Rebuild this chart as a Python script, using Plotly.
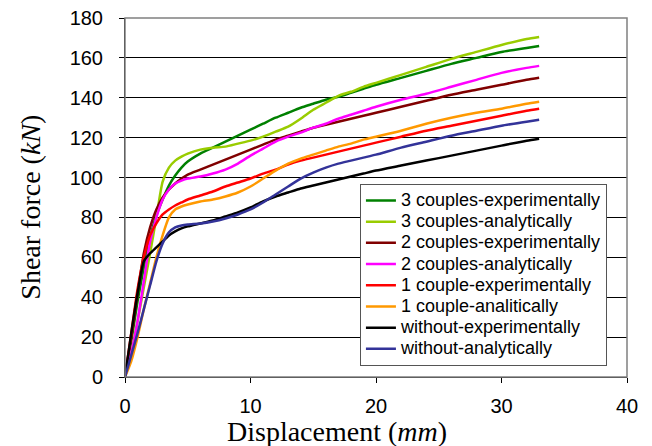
import plotly.graph_objects as go

x = [0, 0.5, 1, 1.5, 2, 2.5, 3, 3.5, 4, 4.5, 5, 6, 7, 8, 9, 10, 11, 12, 13, 14, 15,
     16, 17, 18, 19, 20, 22, 24, 26, 28, 30, 32, 33]

c3_exp = [0, 18, 38, 55, 70, 81, 89, 96, 101, 105, 108, 112, 115, 118, 121, 124, 127, 130,
          132.5, 135, 137, 139, 140.5, 142.5, 144.5, 146.5, 150, 153.5, 157, 160, 163, 165, 166]
c3_ana = [0, 12, 28, 45, 62, 80, 98, 105, 108.5, 110.5, 112, 114, 115, 115.5, 117, 118.5, 120.5,
          123, 125.5, 129.5, 134, 137.5, 141, 143, 145.5, 147.5, 151.5, 155.5, 159.5, 163, 166.5,
          169.5, 170.5]
c2_exp = [0, 20, 42, 62, 75, 84, 90, 94, 97, 99.5, 101.5, 104, 106.5, 109, 111.5, 114, 116.5,
          119, 121, 123, 125, 126.5, 128, 129.5, 131, 132.5, 135.5, 138.5, 141.5, 144, 146.5, 149, 150]
c2_ana = [0, 12, 28, 48, 68, 80, 89, 94, 97, 98.5, 99.5, 100.5, 102, 104, 107, 111, 114.5, 118,
          120.5, 122.5, 125, 127, 129.5, 131.5, 133.5, 135.5, 139, 142, 145.5, 149, 152.5, 155, 156]
c1_exp = [0, 22, 44, 60, 71, 77, 81.5, 84, 86, 87.5, 89, 91, 93, 95.5, 97.5, 99.5, 102, 104,
          106.5, 108.5, 110, 111.5, 113, 114.5, 116, 117.5, 120.5, 123.5, 126, 128.5, 131, 133.5, 134.5]
c1_ana = [0, 8, 20, 34, 47, 60, 71, 80, 84, 85.5, 86.5, 88, 89, 90.5, 92.5, 95.5, 99.5, 103.5,
          107, 109.5, 111.5, 113.5, 115.5, 117, 119, 120.5, 123.5, 127, 130, 132.5, 134.5, 137, 138]
c0_exp = [0, 22, 42, 58, 62, 65, 68, 71, 73, 74.5, 75.5, 77, 78.5, 80.5, 82.5, 85, 88, 90.5,
          92.5, 94.5, 96, 97.5, 99, 100.5, 102, 103.5, 106, 108.5, 111, 113.5, 116, 118.5, 119.5]
c0_ana = [0, 11, 22, 34, 46, 58, 67, 72.5, 75, 76, 76.5, 77, 78, 79.5, 81.5, 84, 87.5, 91.5,
          95.5, 99.5, 102.5, 105, 107, 108.5, 110, 111.5, 115, 118, 121, 123.5, 126, 128, 129]

names = ["3 couples-experimentally", "3 couples-analytically", "2 couples-experimentally",
         "2 couples-analytically", "1 couple-experimentally", "1 couple-analitically",
         "without-experimentally", "without-analytically"]
series = [c3_exp, c3_ana, c2_exp, c2_ana, c1_exp, c1_ana, c0_exp, c0_ana]
colors = ["#008000", "#99CC00", "#800000", "#FF00FF", "#FF0000", "#FF9900", "#000000", "#333399"]

x_ticks = [0, 10, 20, 30, 40]
y_ticks = [0, 20, 40, 60, 80, 100, 120, 140, 160, 180]

x_title = "Displacement (<i>mm</i>)"
y_title = "Shear force (<i>kN</i>)"

fig = go.Figure()
for n, s, c in zip(names, series, colors):
    fig.add_trace(go.Scatter(x=x, y=s, name="<span style='font-size:18px'>" + n + "</span>",
                             mode="lines",
                             line=dict(color=c, width=2.5, shape="spline", smoothing=0.6)))

serif = "Liberation Serif, Times New Roman, serif"
# page body has an 8px margin, so the figure is 8px smaller than the window
fig.update_layout(
    width=644, height=438,
    margin=dict(l=117, r=25, t=10, b=69),
    paper_bgcolor="white", plot_bgcolor="white",
    font=dict(family="Liberation Sans, Arial", size=20, color="black"),
    showlegend=True,
    legend=dict(x=0.468, y=0.538, xanchor="left", yanchor="top",
                bordercolor="#555555", borderwidth=1, bgcolor="white",
                font=dict(family="Liberation Sans, Arial", size=14, color="black"),
                tracegroupgap=0, itemwidth=30),
    shapes=[dict(type="rect", xref="paper", yref="paper", x0=0, y0=0, x1=1, y1=1,
                 line=dict(color="#808080", width=1.5), layer="above")],
    annotations=[
        dict(text=x_title, xref="paper", yref="paper", x=0.4223, y=-0.152,
             xanchor="center", yanchor="middle", showarrow=False,
             font=dict(family=serif, size=28, color="black")),
        dict(text=y_title, xref="paper", yref="paper", x=-0.189, y=0.472,
             xanchor="center", yanchor="middle", showarrow=False, textangle=-90,
             font=dict(family=serif, size=28, color="black")),
    ],
)
fig.update_xaxes(range=[0, 40], tickvals=x_ticks, showgrid=False, zeroline=False,
                 showline=True, linecolor="black", linewidth=1, automargin=False,
                 ticks="outside", ticklen=5, tickcolor="black", ticklabelstandoff=6,
                 ticklabeloverflow="allow")
fig.update_yaxes(range=[0, 180], tickvals=y_ticks, showgrid=True, gridcolor="black",
                 gridwidth=1, zeroline=False, automargin=False,
                 showline=True, linecolor="black", linewidth=1,
                 ticks="outside", ticklen=5, tickcolor="black", ticklabelstandoff=12,
                 ticklabeloverflow="allow")

fig.write_html("out.html")
